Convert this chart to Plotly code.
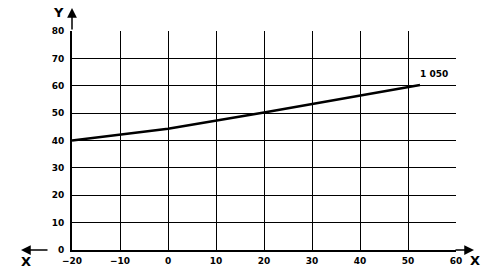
import plotly.graph_objects as go

# data
line_x = [-20, 0, 20, 40, 52.5]
line_y = [40, 44.3, 50.2, 56.5, 60.3]
label_text = "1 050"
x_ticks = [-20, -10, 0, 10, 20, 30, 40, 50, 60]
y_ticks = [0, 10, 20, 30, 40, 50, 60, 70, 80]

W, H = 488, 274
L, R, T, B = 72, 32, 31, 24

def px(xp):
    return (xp - L) / (W - L - R)

def py(yp):
    return (H - B - yp) / (H - T - B)

font_bold = dict(family="DejaVu Sans", size=9, color="black", weight="bold")

fig = go.Figure()
fig.add_trace(go.Scatter(x=line_x, y=line_y, mode="lines",
                         line=dict(color="black", width=2.5),
                         showlegend=False, hoverinfo="skip"))

fig.update_layout(
    width=W, height=H,
    margin=dict(l=L, r=R, t=T, b=B, autoexpand=False),
    paper_bgcolor="white", plot_bgcolor="white",
    xaxis=dict(range=[-20, 60], tickvals=x_ticks, showgrid=True,
               gridcolor="black", gridwidth=1, showline=True,
               linecolor="black", linewidth=2, zeroline=False,
               tickfont=font_bold, ticks="", ticklabelstandoff=1,
               automargin=False, fixedrange=True),
    yaxis=dict(range=[0, 80], tickvals=y_ticks, showgrid=True,
               gridcolor="black", gridwidth=1, showline=True,
               linecolor="black", linewidth=2, zeroline=False,
               tickfont=font_bold, ticks="", ticklabelstandoff=4,
               automargin=False, fixedrange=True),
)

arrow = dict(showarrow=True, arrowhead=2, arrowsize=1.3, arrowwidth=1.5,
             arrowcolor="black", text="", xref="paper", yref="paper")
# Y arrow up
fig.add_annotation(x=0, y=py(8), ax=0, ay=23, **arrow)
# X arrow right
fig.add_annotation(x=px(474), y=0, ax=-20, ay=0, **arrow)
# X arrow left
fig.add_annotation(x=px(21), y=0, ax=28, ay=0, **arrow)

axis_font = dict(family="DejaVu Sans", size=13, color="black", weight="bold")
txt = dict(showarrow=False, xref="paper", yref="paper", font=axis_font,
           xanchor="center", yanchor="middle")
fig.add_annotation(x=px(58), y=py(13), text="Y", **txt)
fig.add_annotation(x=px(26), y=py(261), text="X", **txt)
fig.add_annotation(x=px(475), y=py(260), text="X", **txt)

fig.add_annotation(x=55.4, y=64.3, text=label_text, showarrow=False,
                   xref="x", yref="y", font=font_bold)

fig.write_html("out.html")
